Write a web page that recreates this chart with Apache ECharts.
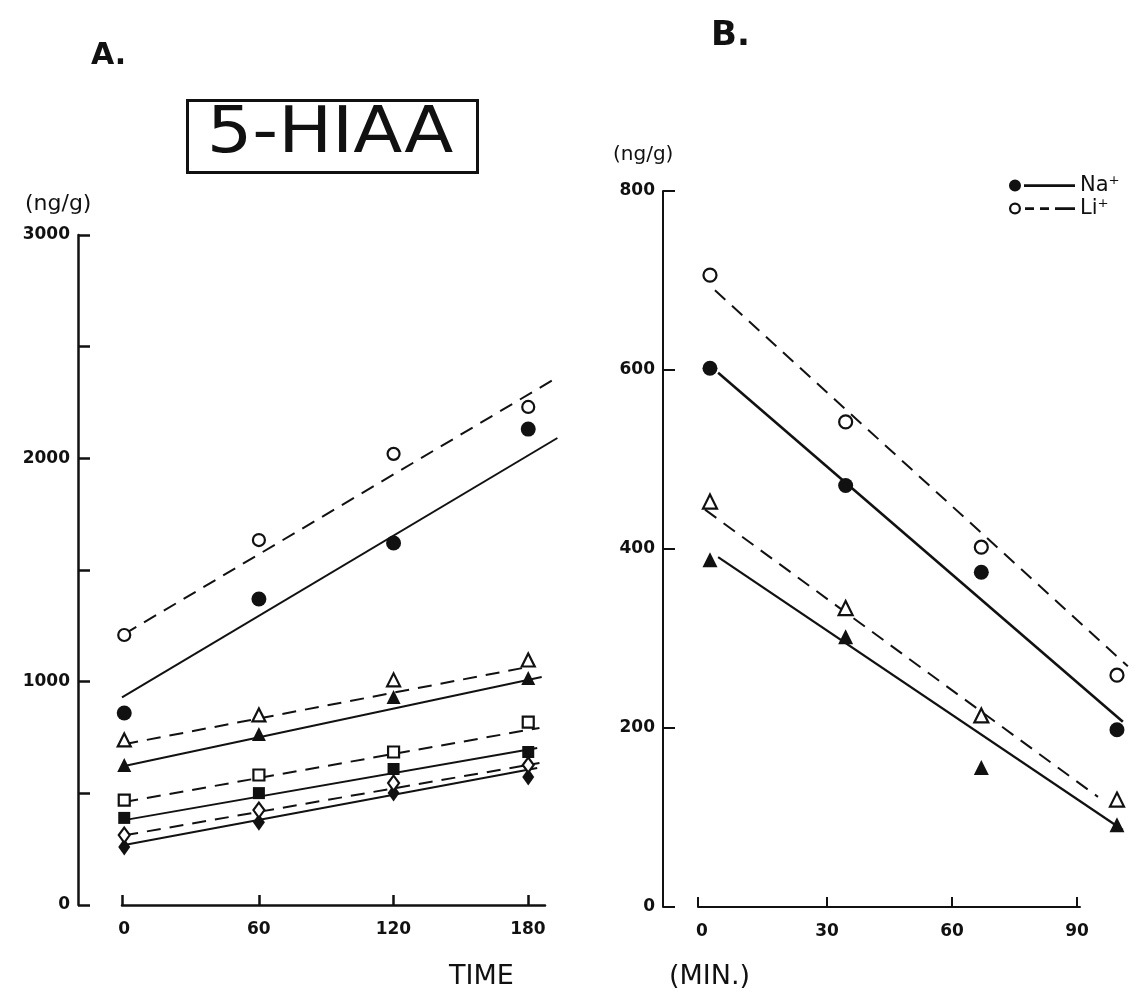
<!DOCTYPE html>
<html>
<head>
<meta charset="utf-8">
<script src="https://cdn.jsdelivr.net/npm/echarts@6/dist/echarts.min.js"></script>
<style>html,body{margin:0;padding:0;background:#fff;}#c{width:1148px;height:998px;}</style>
</head>
<body>
<div id="c"></div>
<script>
// ---- Panel A: 5-HIAA (ng/g) vs time (min)
const timeA = [0, 60, 120, 180];
const naCircleA = [860, 1370, 1621, 2131];
const liCircleA = [1209, 1634, 2020, 2230];
const naTriA = [627, 766, 931, 1016];
const liTriA = [739, 851, 1008, 1097];
const naSqA = [390, 501, 609, 685];
const liSqA = [470, 582, 685, 819];
const naDiaA = [260, 370, 501, 573];
const liDiaA = [313, 425, 546, 627];
// fitted lines A: [startTime, startValue, endTime, endValue]
const fitNaCircleA = [-1, 930, 193, 2091];
const fitLiCircleA = [0, 1213, 191, 2351];
const fitNaTriA = [-1, 620, 186, 1021];
const fitLiTriA = [0, 720, 180, 1066];
const fitNaSqA = [0, 380, 184, 703];
const fitLiSqA = [0, 461, 185, 793];
const fitNaDiaA = [0, 269, 184, 613];
const fitLiDiaA = [0, 312, 185, 636];
const yTicksA = [0, 1000, 2000, 3000];

// ---- Panel B
const timeB = [0, 30, 60, 90];
const naCircleB = [602, 471, 374, 198];
const liCircleB = [706, 542, 402, 259];
const naTriB = [388, 302, 156, 92];
const liTriB = [453, 334, 214, 120];
const fitNaCircleB = [1.8, 597, 91.3, 207];
const fitLiCircleB = [1.1, 689, 92.4, 269];
const fitNaTriB = [1.8, 391, 91.3, 86];
const fitLiTriB = [-1.1, 444, 85.8, 123];
const xTicksB = [0, 30, 60, 90];

const K = '#111';
const FONT = 'DejaVu Sans';
const dash = [14, 9];

function pts(xs, ys) { return xs.map((x, i) => [x, ys[i]]); }
function fit(f) { return [[f[0], f[1]], [f[2], f[3]]]; }

function scatter(name, xs, ys, symbol, filled, size, xi, yi) {
  return {
    type: 'scatter', name: name, xAxisIndex: xi, yAxisIndex: yi, clip: false,
    symbol: symbol, symbolSize: size, data: pts(xs, ys), z: 5,
    itemStyle: { color: filled ? K : '#fff', borderColor: K, borderWidth: filled ? 0 : 2.2, opacity: 1 },
    silent: true
  };
}
function fitLine(name, f, dashed, xi, yi, w) {
  return {
    type: 'line', name: name, xAxisIndex: xi, yAxisIndex: yi, clip: false,
    data: fit(f), symbol: 'none', z: 3, silent: true,
    lineStyle: { color: K, width: w || 2, type: dashed ? dash : 'solid' }
  };
}

// axis indices: x0/y0 visible A, x1/y1 data A, x2/y2 visible B, x3/y3 data B
const series = [
  fitLine('a1', fitNaCircleA, false, 1, 1),
  fitLine('a2', fitLiCircleA, true, 1, 1),
  fitLine('a3', fitNaTriA, false, 1, 1),
  fitLine('a4', fitLiTriA, true, 1, 1),
  fitLine('a5', fitNaSqA, false, 1, 1),
  fitLine('a6', fitLiSqA, true, 1, 1),
  fitLine('a7', fitNaDiaA, false, 1, 1),
  fitLine('a8', fitLiDiaA, true, 1, 1),
  scatter('s1', timeA, naCircleA, 'circle', true, 15, 1, 1),
  scatter('s2', timeA, liCircleA, 'circle', false, 12, 1, 1),
  scatter('s3', timeA, naTriA, 'triangle', true, 14, 1, 1),
  scatter('s4', timeA, liTriA, 'triangle', false, 13, 1, 1),
  scatter('s5', timeA, naSqA, 'rect', true, 12, 1, 1),
  scatter('s6', timeA, liSqA, 'rect', false, 11, 1, 1),
  scatter('s7', timeA, naDiaA, 'diamond', true, [12, 17], 1, 1),
  scatter('s8', timeA, liDiaA, 'diamond', false, [11, 15], 1, 1),

  fitLine('b1', fitNaCircleB, false, 3, 3, 2.6),
  fitLine('b2', fitLiCircleB, true, 3, 3),
  fitLine('b3', fitNaTriB, false, 3, 3, 2.2),
  fitLine('b4', fitLiTriB, true, 3, 3),
  scatter('t1', timeB, naCircleB, 'circle', true, 15, 3, 3),
  scatter('t2', timeB, liCircleB, 'circle', false, 13, 3, 3),
  scatter('t3', timeB, naTriB, 'triangle', true, 15, 3, 3),
  scatter('t4', timeB, liTriB, 'triangle', false, 14, 3, 3),

  { type: 'line', name: 'Na⁺', xAxisIndex: 3, yAxisIndex: 3, data: [], symbol: 'circle',
    itemStyle: { color: K, borderWidth: 0 }, lineStyle: { color: K, width: 3 } },
  { type: 'line', name: 'Li⁺', xAxisIndex: 3, yAxisIndex: 3, data: [], symbol: 'circle',
    itemStyle: { color: K, borderWidth: 0 }, lineStyle: { color: K, width: 2.5, type: [8, 6] } }
];

const iconNa = 'path://M0,6 A6,6 0 1,1 12,6 A6,6 0 1,1 0,6 Z M15,4.8 L66,4.8 L66,7.6 L15,7.6 Z';
const iconLi = 'path://M0,6 A6,6 0 1,1 12,6 A6,6 0 1,1 0,6 Z M2.2,6 A3.8,3.8 0 1,0 9.8,6 A3.8,3.8 0 1,0 2.2,6 Z ' +
  'M16,4.8 L25,4.8 L25,7.4 L16,7.4 Z M31,4.8 L40,4.8 L40,7.4 L31,7.4 Z M46,4.8 L66,4.8 L66,7.4 L46,7.4 Z';

const axisLineStyle = { color: K, width: 2.5 };
const tickLbl = { color: K, fontFamily: FONT, fontWeight: 'bold', fontSize: 17 };

const option = {
  backgroundColor: '#fff',
  animation: false,
  title: [
    { text: 'A.', left: 86, top: 36, textStyle: { fontFamily: FONT, fontWeight: 'bold', fontSize: 30, color: K } },
    { text: 'B.', left: 706, top: 14, textStyle: { fontFamily: FONT, fontWeight: 'bold', fontSize: 34, color: K } },
    { text: '(ng/g)', left: 20, top: 188, textStyle: { fontFamily: FONT, fontWeight: 'normal', fontSize: 22, color: K } },
    { text: '(ng/g)', left: 608, top: 140, textStyle: { fontFamily: FONT, fontWeight: 'normal', fontSize: 20, color: K } },
    { text: 'TIME', left: 444, top: 958, textStyle: { fontFamily: FONT, fontWeight: 'normal', fontSize: 27, color: K } },
    { text: '(MIN.)', left: 664, top: 958, textStyle: { fontFamily: FONT, fontWeight: 'normal', fontSize: 27, color: K } }
  ],
  graphic: [
    { type: 'rect', left: 185, top: 98, shape: { width: 290, height: 72 },
      style: { fill: 'none', stroke: K, lineWidth: 3 } },
    { type: 'text', x: 330, y: 135, scaleX: 1.12,
      style: { text: '5-HIAA', fill: K, font: 'normal 64px "DejaVu Sans"', textAlign: 'center', textVerticalAlign: 'middle' } }
  ],
  legend: {
    data: [{ name: 'Na⁺', icon: iconNa }, { name: 'Li⁺', icon: iconLi }],
    orient: 'vertical', left: 1004, top: 170, itemGap: 2,
    itemWidth: 66, itemHeight: 12, textStyle: { fontFamily: FONT, fontSize: 21, color: K },
    selectedMode: false
  },
  grid: [
    { left: 122, top: 235, width: 423, height: 670 },
    { left: 122, top: 235, width: 450, height: 670 },
    { left: 698, top: 191, width: 382, height: 716 },
    { left: 698, top: 191, width: 440, height: 716 }
  ],
  xAxis: [
    { type: 'value', gridIndex: 0, min: -1, max: 187.6,
      splitLine: { show: false }, axisLine: { onZero: false, lineStyle: axisLineStyle },
      axisTick: { show: true, inside: true, length: 10, lineStyle: { color: K, width: 2.5 }, customValues: [-1, 60, 120, 180] },
      axisLabel: Object.assign({ margin: 16, customValues: timeA }, tickLbl) },
    { type: 'value', gridIndex: 1, min: -1, max: 199.5, show: false },
    { type: 'value', gridIndex: 2, min: -0.96, max: 90.72,
      splitLine: { show: false }, axisLine: { onZero: false, lineStyle: { color: K, width: 2 } },
      axisTick: { show: true, inside: true, length: 10, lineStyle: { color: K, width: 2 }, customValues: [-0.96, 30, 60, 90] },
      axisLabel: Object.assign({ margin: 16, customValues: xTicksB }, tickLbl) },
    { type: 'value', gridIndex: 3, min: -2.65, max: 94.65, show: false }
  ],
  yAxis: [
    { type: 'value', gridIndex: 0, min: 0, max: 3000, interval: 500, offset: 44,
      splitLine: { show: false }, axisLine: { show: true, onZero: false, lineStyle: axisLineStyle },
      axisTick: { show: true, inside: true, length: 12, lineStyle: { color: K, width: 2.5 } },
      axisLabel: Object.assign({ margin: 8, formatter: v => (yTicksA.indexOf(v) >= 0 ? String(v) : '') }, tickLbl) },
    { type: 'value', gridIndex: 1, min: 0, max: 3000, show: false },
    { type: 'value', gridIndex: 2, min: 0, max: 800, interval: 200, offset: 35,
      splitLine: { show: false }, axisLine: { show: true, onZero: false, lineStyle: { color: K, width: 2 } },
      axisTick: { show: true, inside: true, length: 12, lineStyle: { color: K, width: 2 } },
      axisLabel: Object.assign({ margin: 8 }, tickLbl) },
    { type: 'value', gridIndex: 3, min: 0, max: 800, show: false }
  ],
  series: series
};

const chart = echarts.init(document.getElementById('c'), null, { renderer: 'canvas' });
chart.setOption(option);
</script>
</body>
</html>
